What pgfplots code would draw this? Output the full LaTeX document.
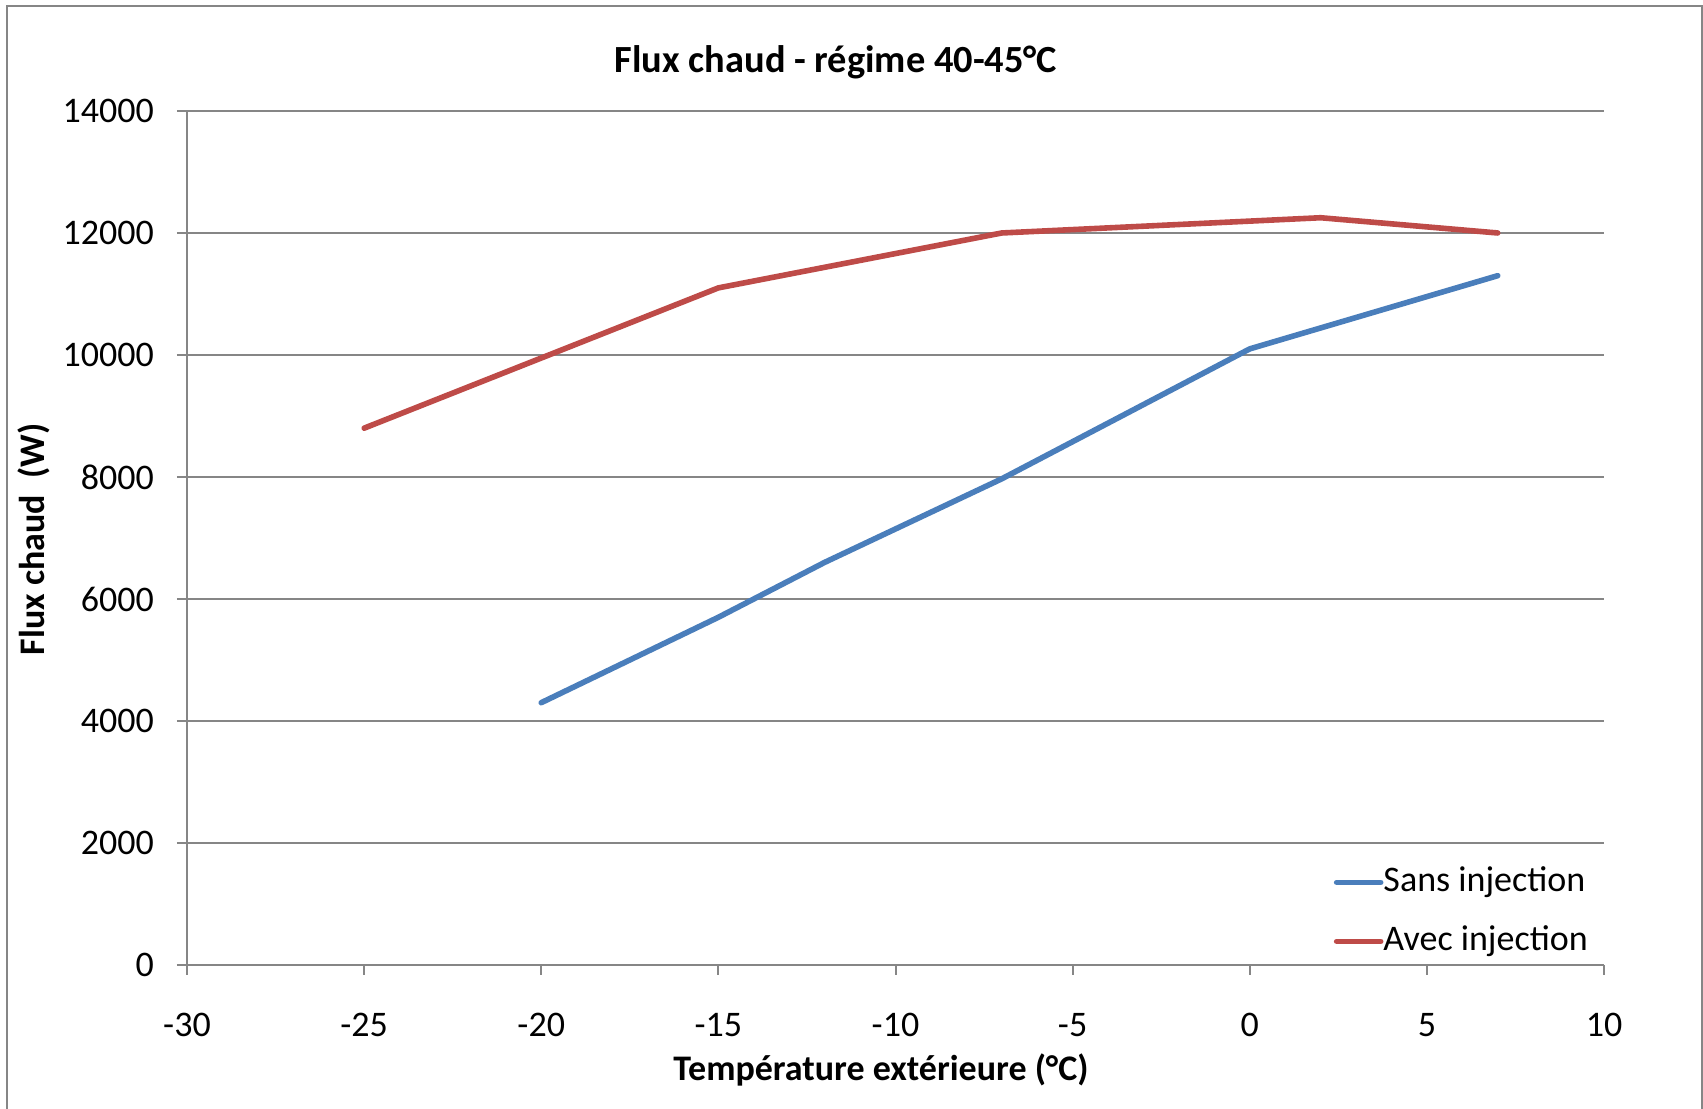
\documentclass[border=0pt]{standalone}
\usepackage{pgfplots}
\pgfplotsset{compat=1.18}
\usepackage{fontspec}
\setmainfont{Carlito}
\definecolor{xlblue}{HTML}{4A7EBB}
\definecolor{xlred}{HTML}{BE4B48}
\definecolor{xlgrid}{HTML}{868686}
\begin{document}
\begin{tikzpicture}
\useasboundingbox (0pt,0pt) rectangle (425.75pt,277.25pt);
\draw[xlgrid, line width=0.5pt] (1.625pt,0pt) -- (1.625pt,275.625pt) -- (425.375pt,275.625pt) -- (425.375pt,0pt);
\begin{axis}[
  at={(46.75pt,36pt)}, anchor=south west,
  scale only axis, width=354.25pt, height=213.5pt,
  xmin=-30, xmax=10, ymin=0, ymax=14000,
  scaled y ticks=false, scaled x ticks=false,
  xtick={-30,-25,...,10},
  xticklabels={-30,-25,-20,-15,-10,-5,0,5,10},
  ytick={0,2000,...,14000},
  yticklabels={0,2000,4000,6000,8000,10000,12000,14000},
  axis lines=left,
  axis line style={-, xlgrid, line width=0.5pt},
  tick align=outside, major tick length=2.5pt,
  tick style={xlgrid, line width=0.5pt},
  ymajorgrids, grid style={xlgrid, line width=0.5pt},
  tick label style={font=\fontsize{9}{10}\selectfont, inner sep=0pt},
  xticklabel style={anchor=base, yshift=-15.4pt},
  yticklabel style={anchor=east, xshift=-5.6pt},
  title={Flux chaud - régime 40-45°C},
  every axis title shift=0pt,
  title style={at={(0.458,1.0445)}, anchor=base, yshift=0pt, font=\bfseries\fontsize{9.6}{11}\selectfont, inner sep=0pt},
  xlabel={Température extérieure (°C)},
  xlabel style={at={(0.4898,-0.1347)}, anchor=base, font=\bfseries\fontsize{9}{10}\selectfont, inner sep=0pt},
  ylabel={Flux chaud\ \ (W)},
  ylabel style={at={(-0.108,0.4982)}, anchor=center, font=\bfseries\fontsize{9}{10}\selectfont, inner sep=0pt},
  legend style={at={(0.8088,0.0622)}, anchor=west, draw=none, fill=none, inner sep=0pt,
    font=\fontsize{9}{10}\selectfont, row sep=6.25pt,
    nodes={inner sep=0pt, text height=6.5pt, text depth=2pt},
    /tikz/every even column/.append style={column sep=3.2pt}},
  legend cell align=left,
  legend image code/.code={\draw[#1, line cap=round] (0pt,0pt) -- (11pt,0pt);},
]
\addplot[xlblue, line width=1.4pt, line cap=round, line join=round] coordinates {
  (-20,4300) (-15,5700) (-12,6600) (-7,7970) (0,10100) (7,11300)
};
\addlegendentry{Sans injection}
\addplot[xlred, line width=1.4pt, line cap=round, line join=round] coordinates {
  (-25,8800) (-20,9950) (-15,11100) (-7,12000) (2,12250) (7,12000)
};
\addlegendentry{Avec injection}
\end{axis}
\end{tikzpicture}
\end{document}
